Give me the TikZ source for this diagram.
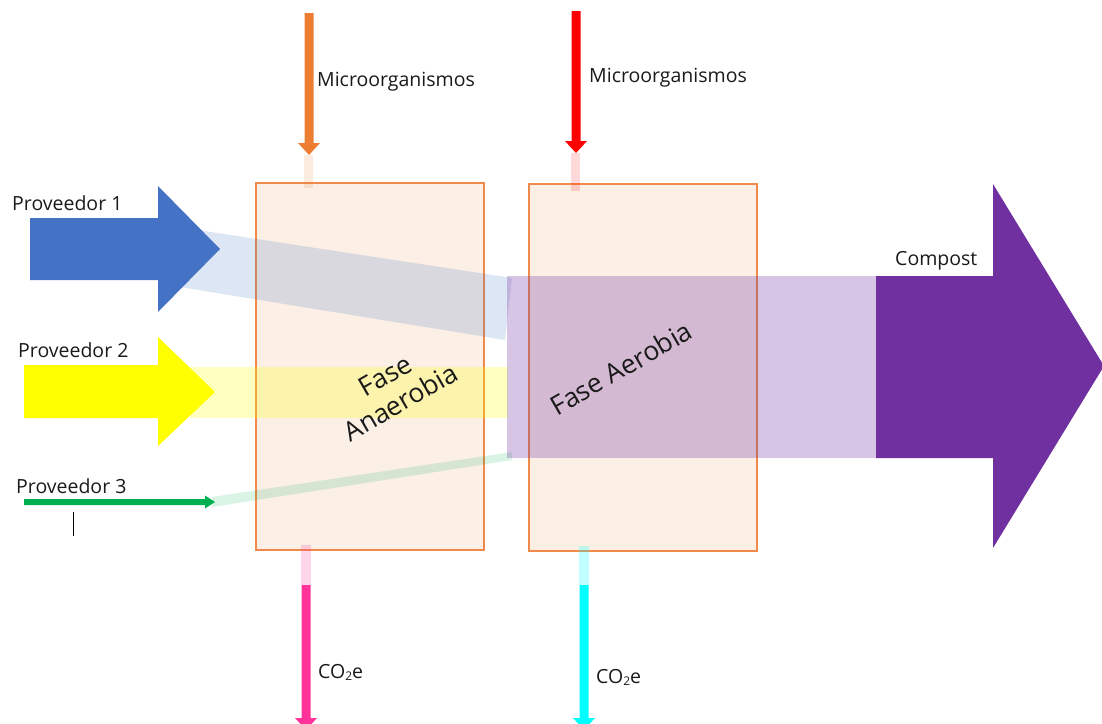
\documentclass[tikz,border=0pt]{standalone}
\usepackage{fontspec}
\setmainfont{Open Sans}
\definecolor{boxfill}{HTML}{FBEFE6}
\definecolor{boxline}{HTML}{F08A4B}
\definecolor{pblue}{HTML}{4472C4}
\definecolor{pyellow}{HTML}{FFFF00}
\definecolor{pgreen}{HTML}{00B050}
\definecolor{ppurple}{HTML}{7030A0}
\definecolor{porange}{HTML}{ED7D31}
\definecolor{pred}{HTML}{FF0000}
\definecolor{ppink}{HTML}{FF3399}
\definecolor{pcyan}{HTML}{00FFFF}
\definecolor{txt}{HTML}{1A1A1A}
\newcommand{\dnarrow}[5]{% name x ytop ytip color
  \fill[#5] ({#2-4.5},#3) -- ({#2+4.5},#3) -- ({#2+4.5},{#4-12}) -- ({#2+11},{#4-12}) -- (#2,#4) -- ({#2-11},{#4-12}) -- ({#2-4.5},{#4-12}) -- cycle;
  \coordinate (#1) at (#2,#4);}
\begin{document}
\begin{tikzpicture}[x=1pt,y=-1pt,
  phase/.style={draw=boxline, line width=1.2pt, fill=boxfill, inner sep=0pt},
  lbl/.style={font=\fontsize{19.5}{23}\selectfont, text=txt, inner sep=0pt},
  phtxt/.style={font=\fontsize{26.5}{31}\selectfont, text=txt, align=center, rotate=30},
  band/.style={fill opacity=#1},
]
\useasboundingbox (0,0) rectangle (1102,723);
% phase boxes
\node[phase, minimum width=228pt, minimum height=367pt] (anaer) at (370,366.5) {};
\node[phase, minimum width=228pt, minimum height=367pt] (aer) at (643,367.5) {};
% faint stubs
\fill[porange, band=0.15] (304,155) rectangle (313,188);
\fill[pred, band=0.15] (571,153) rectangle (580,191);
\fill[ppink, band=0.2] (301,545) rectangle (311,585);
\fill[pcyan, band=0.25] (579,546) rectangle (589,585);
% vertical arrows
\dnarrow{mo1}{309}{13}{155}{porange}
\dnarrow{mo2}{576}{11}{153}{pred}
\dnarrow{co1}{306}{585}{730}{ppink}
\dnarrow{co2}{584}{585}{730}{pcyan}
% bands
\fill[pblue, band=0.18] (185,228) -- (512,278) -- (505,340) -- (180,287) -- cycle;
\fill[pyellow, band=0.25] (190,367) rectangle (508,418);
\fill[pgreen, band=0.15] (212,497) -- (512,452) -- (512,460) -- (212,507) -- cycle;
\fill[ppurple, band=0.28] (507,276) rectangle (876,458);
% input block arrows
\fill[pblue] (30,218) -- (158,218) -- (158,186) -- (220,249) -- (158,312) -- (158,280) -- (30,280) -- cycle;
\fill[pyellow] (24,365) -- (158,365) -- (158,337) -- (215,392) -- (158,446) -- (158,418) -- (24,418) -- cycle;
\fill[pgreen] (24,499) -- (205,499) -- (205,495.5) -- (215,502) -- (205,508.5) -- (205,505) -- (24,505) -- cycle;
% output arrow
\fill[ppurple] (876,276) -- (993,276) -- (993,184) -- (1104,366) -- (993,548) -- (993,458) -- (876,458) -- cycle;
% small black line
\coordinate (tk1) at (73,512);
\coordinate (tk2) at (73,536);
\draw[black, line width=0.9pt] (tk1) -- (tk2);
% labels
\node[lbl, anchor=base west] (p1) at (12,210) {Proveedor 1};
\node[lbl, anchor=base west] (p2) at (18,357) {Proveedor 2};
\node[lbl, anchor=base west] (p3) at (16,493) {Proveedor 3};
\node[lbl, anchor=base west] (m1) at (317,86) {Microorganismos};
\node[lbl, anchor=base west] (m2) at (589,82) {Microorganismos};
\node[lbl, anchor=base west] (cp) at (895,265) {Compost};
\node[lbl, anchor=base west] (c1) at (318,678) {CO\raisebox{-0.25ex}{\fontsize{12}{14}\selectfont 2}e};
\node[lbl, anchor=base west] (c2) at (596,683) {CO\raisebox{-0.25ex}{\fontsize{12}{14}\selectfont 2}e};
\node[phtxt] (ta) at (393,389) {Fase\\Anaerobia};
\node[phtxt] (tb) at (621,368) {Fase Aerobia};
\end{tikzpicture}
\end{document}
